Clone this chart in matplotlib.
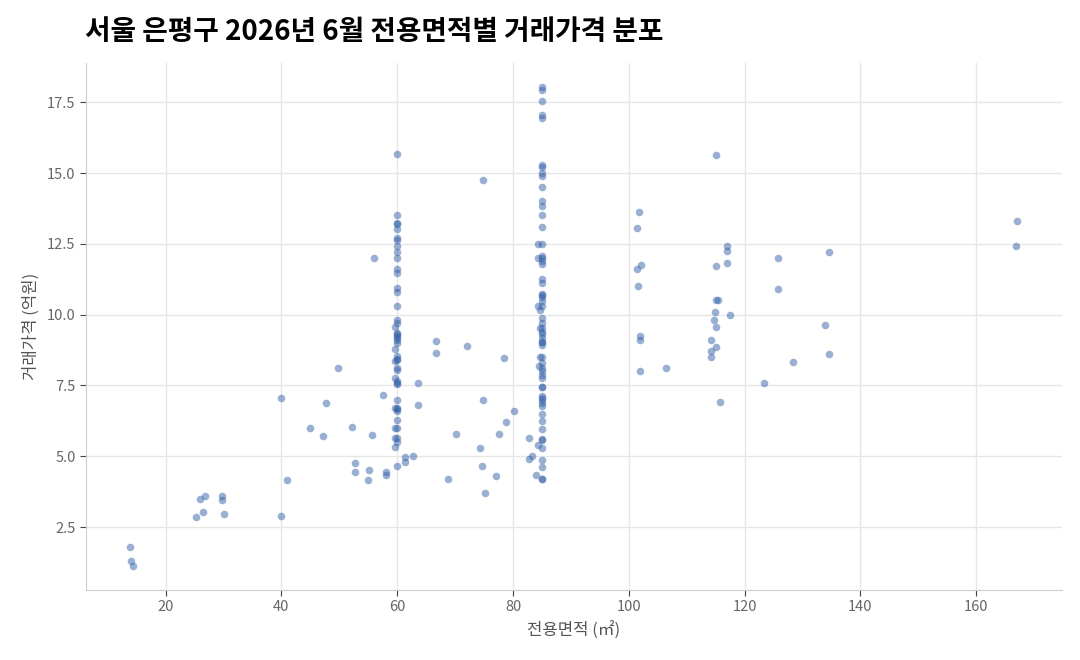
import matplotlib
matplotlib.use("Agg")
import matplotlib.pyplot as plt

plt.rcParams['font.family'] = ['Noto Sans CJK KR', 'DejaVu Sans']

# 전용면적 60 부근 거래
area_60 = [59.9, 59.9, 59.9, 59.9, 59.9, 59.9, 59.9, 59.9, 59.9, 59.9,
           59.9, 59.9, 59.9, 59.9, 59.9, 59.9, 59.9, 59.7, 59.9, 59.9,
           59.9, 59.9, 59.7, 59.9, 59.9, 59.9, 59.7, 59.9, 59.9, 59.9,
           59.9, 59.7, 59.9, 59.9, 59.9, 59.9, 59.6, 59.9, 59.6, 59.9,
           59.9, 59.6, 59.9, 59.6, 59.9, 59.9, 59.9, 59.9]
price_60 = [15.68, 13.52, 13.22, 13.2, 13.02, 12.72, 12.65, 12.43, 12.22, 11.99,
            11.6, 11.48, 10.95, 10.81, 10.3, 9.8, 9.71, 9.56, 9.3, 9.25,
            9.18, 9.0, 8.77, 8.53, 8.45, 8.4, 8.35, 8.11, 8.05, 7.64,
            7.55, 7.76, 6.99, 6.7, 6.68, 6.58, 6.7, 6.28, 5.99, 5.99,
            5.66, 5.66, 5.51, 5.34, 4.66, 9.35, 9.1, 7.6]

# 전용면적 85 부근 거래
area_85 = [85.0, 85.0, 85.0, 85.0, 85.0, 85.0, 85.0, 85.0, 85.0, 85.0,
           85.0, 85.0, 85.0, 85.0, 84.4, 85.0, 84.4, 85.0, 85.0, 85.0,
           85.0, 85.0, 85.0, 85.0, 85.0, 84.3, 85.0, 84.7, 85.0, 85.0,
           84.6, 85.0, 85.0, 85.0, 85.0, 85.0, 85.0, 84.6, 85.0, 85.0,
           85.0, 84.5, 85.0, 85.0, 85.0, 85.0, 85.0, 85.0, 85.0, 85.0,
           85.0, 85.0, 85.0, 85.0, 84.4, 85.0, 85.0, 85.0, 85.0, 85.0,
           85.0, 85.0, 85.0, 85.0, 85.0, 85.0]
price_85 = [18.04, 17.95, 17.54, 17.04, 16.94, 15.3, 15.23, 15.0, 14.88, 14.52,
            14.03, 13.82, 13.52, 13.08, 12.51, 12.51, 12.01, 12.01, 12.07, 11.9,
            11.8, 11.25, 11.1, 10.73, 10.62, 10.3, 10.3, 10.15, 9.89, 9.71,
            9.53, 9.53, 9.39, 9.18, 9.05, 8.94, 8.49, 8.49, 9.02, 8.11,
            8.0, 8.17, 7.88, 7.76, 7.44, 7.44, 7.11, 6.99, 6.87, 6.76,
            6.48, 6.26, 5.95, 5.57, 5.4, 5.28, 4.88, 4.63, 4.18, 4.18,
            10.48, 9.3, 8.3, 7.05, 5.6, 10.7]

# 나머지 면적 거래
area_etc = [13.9, 14.1, 14.4, 25.2, 26.4, 25.9, 26.8, 29.8, 29.8, 30.0,
            39.9, 41.0, 39.9, 45.0, 47.1, 47.7, 49.7, 52.2, 52.7, 52.7,
            55.0, 55.1, 55.7, 56.0, 57.5, 58.1, 58.1, 61.4, 61.4, 62.7,
            63.6, 63.6, 66.7, 66.7, 68.7, 70.2, 72.1, 74.3, 74.7, 74.9,
            74.9, 75.2, 77.1, 77.5, 78.4, 78.8, 80.1, 82.7, 82.8, 83.2,
            84.0,
            101.5, 101.5, 101.6, 101.8, 102.0, 102.0, 102.0, 102.1, 106.5,
            114.2, 114.2, 114.2, 114.8, 114.9, 115.0, 115.0, 115.1, 115.1,
            115.1, 115.4, 115.7, 117.0, 117.0, 117.0, 117.4, 123.3, 125.8,
            125.8, 128.3, 133.9, 134.5, 134.5, 166.9, 167.1]
price_etc = [1.78, 1.3, 1.12, 2.85, 3.04, 3.48, 3.6, 3.58, 3.44, 2.96,
             7.05, 4.15, 2.9, 6.0, 5.7, 6.88, 8.12, 6.02, 4.76, 4.46,
             4.15, 4.5, 5.75, 12.01, 7.15, 4.45, 4.32, 4.97, 4.8, 5.0,
             7.6, 6.8, 9.06, 8.65, 4.18, 5.8, 8.91, 5.3, 4.66, 14.77,
             7.0, 3.7, 4.3, 5.8, 8.47, 6.2, 6.6, 4.9, 5.65, 5.0,
             4.35,
             13.07, 11.6, 11.01, 13.61, 9.26, 9.1, 8.0, 11.77, 8.1,
             9.1, 8.7, 8.49, 9.8, 10.1, 9.57, 8.87, 15.63, 11.72,
             10.5, 10.5, 6.9, 12.43, 12.25, 11.82, 10.0, 7.6, 12.01,
             10.9, 8.32, 9.65, 12.22, 8.6, 12.42, 13.32]

area = area_60 + area_85 + area_etc
price = price_60 + price_85 + price_etc

fig = plt.figure(figsize=(10.8, 6.6), dpi=100)
ax = fig.add_axes([0.0796, 0.106, 0.9034, 0.7985])

ax.scatter(area, price, s=30, color='#3462a8', alpha=0.5, linewidths=0)

ax.grid(True, color='#e6e6e6', linewidth=1)
ax.set_axisbelow(True)
for side in ['top', 'right']:
    ax.spines[side].set_visible(False)
for side in ['left', 'bottom']:
    ax.spines[side].set_color('#c8ccd4')
ax.tick_params(colors='#444444', labelcolor='#666666', labelsize=10.5, length=4)
for lab in ax.get_xticklabels() + ax.get_yticklabels():
    lab.set_fontweight('light')

ax.set_xlabel('전용면적 (㎡)', color='#555555', fontsize=12, labelpad=5,
              fontweight='light')
ax.set_ylabel('거래가격 (억원)', color='#555555', fontsize=12, labelpad=5,
              fontweight='light')

fig.text(0.079, 0.951, '서울 은평구 2026년 6월 전용면적별 거래가격 분포',
         fontsize=20, fontweight='bold', color='#000000', va='center')

fig.savefig('out.png', dpi=100)
